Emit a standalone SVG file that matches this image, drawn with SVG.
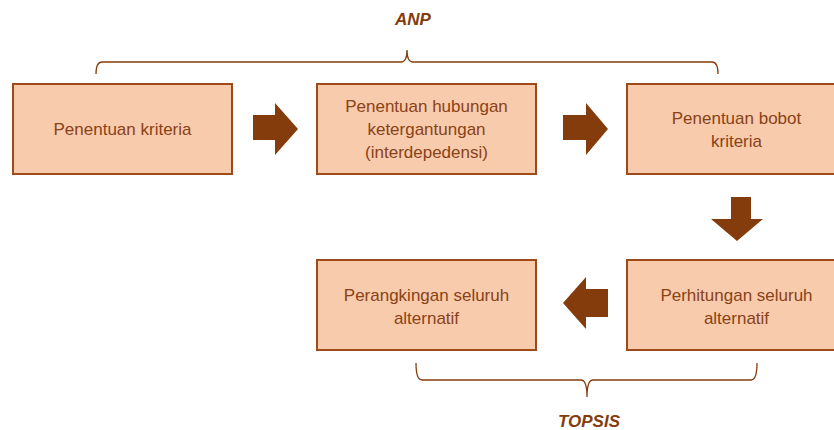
<svg xmlns="http://www.w3.org/2000/svg" width="834" height="430" viewBox="0 0 834 430">
<style>
.box{fill:#F8CBAD;stroke:#9C4A1A;stroke-width:2}
.t{font-family:"Liberation Sans",Arial,sans-serif;font-size:17px;fill:#8A4216;text-anchor:middle;dominant-baseline:central}
.lbl{font-family:"Liberation Sans",Arial,sans-serif;font-size:17px;font-weight:bold;font-style:italic;fill:#843C0C;text-anchor:middle}
.arr{fill:#843C0C}
.brace{fill:none;stroke:#843C0C;stroke-width:1.3}
</style>
<rect width="834" height="430" fill="#fff"/>
<g id="n1"><rect class="box" x="13" y="84" width="219" height="90"/><text class="t" x="122.5" y="129">Penentuan kriteria</text></g>
<g id="n2"><rect class="box" x="317" y="84" width="219" height="90"/><text class="t" x="426.5" y="106">Penentuan hubungan</text><text class="t" x="426.5" y="129">ketergantungan</text><text class="t" x="426.5" y="152">(interdepedensi)</text></g>
<g id="n3"><rect class="box" x="627" y="84" width="219" height="90"/><text class="t" x="736.5" y="118">Penentuan bobot</text><text class="t" x="736.5" y="141">kriteria</text></g>
<g id="n4"><rect class="box" x="317" y="260" width="219" height="90"/><text class="t" x="426.5" y="295">Perangkingan seluruh</text><text class="t" x="426.5" y="318">alternatif</text></g>
<g id="n5"><rect class="box" x="627" y="260" width="219" height="90"/><text class="t" x="736.5" y="295">Perhitungan seluruh</text><text class="t" x="736.5" y="318">alternatif</text></g>
<g id="connectors">
<polygon class="arr" points="253,115 275,115 275,103 298,129 275,155 275,140 253,140"/>
<polygon class="arr" points="563,115 586,115 586,103 608,129 586,155 586,140 563,140"/>
<polygon class="arr" points="731,197 751,197 751,219 763,219 737,241 711,219 731,219"/>
<polygon class="arr" points="608,289 586,289 586,277 563,303 586,329 586,317 608,317"/>
</g>
<g id="braces">
<path class="brace" d="M96,74 Q96,62 102,62 L401,62 Q407,62 407,50 Q407,62 413,62 L712,62 Q718,62 718,74"/>
<path class="brace" d="M416,363 Q416,380 422,380 L581,380 Q587,380 587,397 Q587,380 593,380 L751,380 Q757,380 757,363"/>
<text class="lbl" x="413" y="25">ANP</text>
<text class="lbl" x="589" y="427">TOPSIS</text>
</g>
</svg>
